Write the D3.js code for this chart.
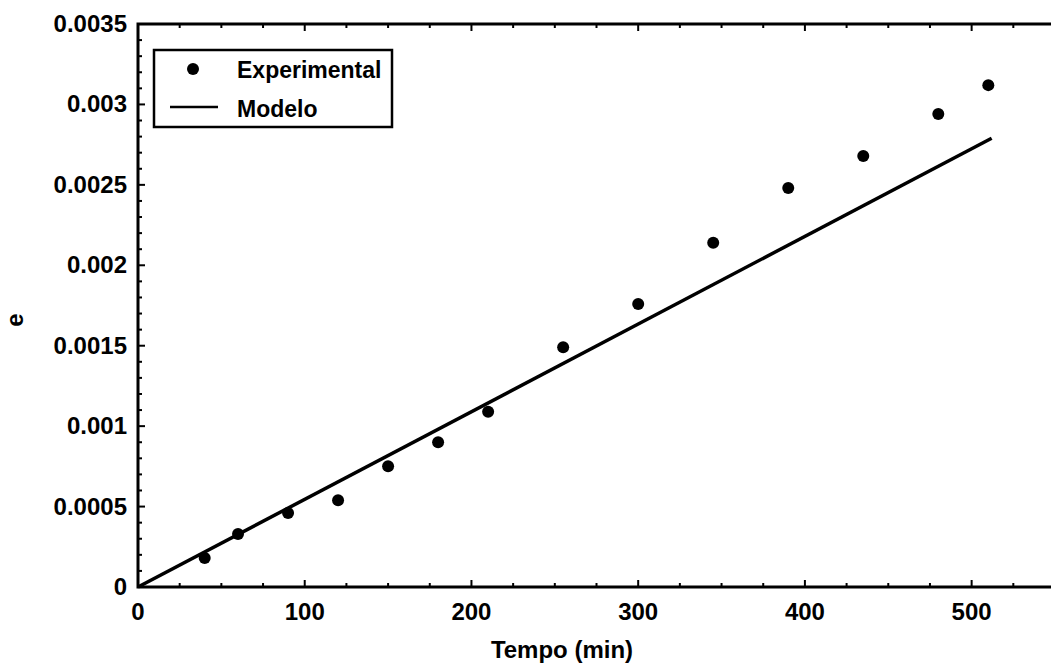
<!DOCTYPE html>
<html>
<head>
<meta charset="utf-8">
<script src="https://cdn.jsdelivr.net/npm/d3@7"></script>
<style>
  body { margin: 0; background: #fff; }
  text { font-family: "Liberation Sans", Arial, sans-serif; font-weight: bold; fill: #000; }
</style>
</head>
<body>
<div id="chart"></div>
<script>
// experimental points
let tempo = [40, 60, 90, 120, 150, 180, 210, 255, 300, 345, 390, 435, 480, 510];
let deform = [0.00018, 0.00033, 0.00046, 0.00054, 0.00075, 0.0009, 0.00109, 0.00149, 0.00176, 0.00214, 0.00248, 0.00268, 0.00294, 0.00312];
// model line
let modeloX = [0, 512];
let modeloY = [0, 0.00279];
let xTicks = [0, 100, 200, 300, 400, 500];
let yTicks = [0, 0.0005, 0.001, 0.0015, 0.002, 0.0025, 0.003, 0.0035];
let yTickLabels = ["0", "0.0005", "0.001", "0.0015", "0.002", "0.0025", "0.003", "0.0035"];

let width = 1051, height = 669;
let plotLeft = 138, plotTop = 24, plotBottom = 587, plotRight = 1055;

let svg = d3.select("#chart").append("svg")
    .attr("width", width)
    .attr("height", height);

svg.append("rect").attr("width", width).attr("height", height).attr("fill", "#fff");

let x = d3.scaleLinear().domain([0, 550]).range([plotLeft, plotRight]);
let y = d3.scaleLinear().domain([0, 0.0035]).range([plotBottom, plotTop]);

let fontSize = 24;

// minor ticks
let xMinor = d3.range(0, 551, 25);
let yMinor = d3.range(0, 0.00351, 0.0001);

let axisG = svg.append("g");
// bottom + top inward ticks
xMinor.forEach(function(v, i) {
    let len = (i % 4 === 0) ? 7 : 4;
    axisG.append("line").attr("x1", x(v)).attr("x2", x(v))
        .attr("y1", plotBottom).attr("y2", plotBottom - len).attr("stroke", "#000").attr("stroke-width", 2);
    axisG.append("line").attr("x1", x(v)).attr("x2", x(v))
        .attr("y1", plotTop).attr("y2", plotTop + len).attr("stroke", "#000").attr("stroke-width", 2);
});
yMinor.forEach(function(v, i) {
    let len = (i % 5 === 0) ? 7 : 4;
    axisG.append("line").attr("x1", plotLeft).attr("x2", plotLeft + len)
        .attr("y1", y(v)).attr("y2", y(v)).attr("stroke", "#000").attr("stroke-width", 2);
});

// frame (right side cut off)
axisG.append("path")
    .attr("d", "M" + plotRight + "," + plotTop + "H" + plotLeft + "V" + plotBottom + "H" + plotRight)
    .attr("fill", "none").attr("stroke", "#000").attr("stroke-width", 3);

// tick labels
svg.selectAll(".xlab").data(xTicks).enter().append("text")
    .attr("class", "xlab")
    .attr("x", function(d) { return x(d); })
    .attr("y", 620)
    .attr("text-anchor", "middle")
    .attr("font-size", fontSize)
    .text(function(d) { return d; });

svg.selectAll(".ylab").data(yTicks).enter().append("text")
    .attr("class", "ylab")
    .attr("x", 127)
    .attr("y", function(d) { return y(d) + 8; })
    .attr("text-anchor", "end")
    .attr("font-size", fontSize)
    .text(function(d, i) { return yTickLabels[i]; });

// axis titles
svg.append("text")
    .attr("x", 562).attr("y", 658)
    .attr("text-anchor", "middle")
    .attr("font-size", fontSize)
    .text("Tempo (min)");

svg.append("text")
    .attr("transform", "translate(23,320) rotate(-90)")
    .attr("text-anchor", "middle")
    .attr("font-size", fontSize)
    .text("e");

// model line
let line = d3.line()
    .x(function(d, i) { return x(modeloX[i]); })
    .y(function(d, i) { return y(modeloY[i]); });

svg.append("path")
    .datum(modeloX)
    .attr("d", line)
    .attr("fill", "none")
    .attr("stroke", "#000")
    .attr("stroke-width", 3.5);

// points
svg.selectAll(".pt").data(tempo).enter().append("circle")
    .attr("class", "pt")
    .attr("cx", function(d) { return x(d); })
    .attr("cy", function(d, i) { return y(deform[i]); })
    .attr("r", 6)
    .attr("fill", "#000");

// legend
let legend = svg.append("g");
legend.append("rect")
    .attr("x", 154).attr("y", 50)
    .attr("width", 238).attr("height", 77)
    .attr("fill", "#fff").attr("stroke", "#000").attr("stroke-width", 2.5);
legend.append("circle").attr("cx", 193).attr("cy", 69).attr("r", 6).attr("fill", "#000");
legend.append("line").attr("x1", 170).attr("x2", 218).attr("y1", 107).attr("y2", 107)
    .attr("stroke", "#000").attr("stroke-width", 2.5);
legend.append("text").attr("x", 237).attr("y", 78).attr("font-size", 23).text("Experimental");
legend.append("text").attr("x", 237).attr("y", 117).attr("font-size", 23).text("Modelo");
</script>
</body>
</html>
